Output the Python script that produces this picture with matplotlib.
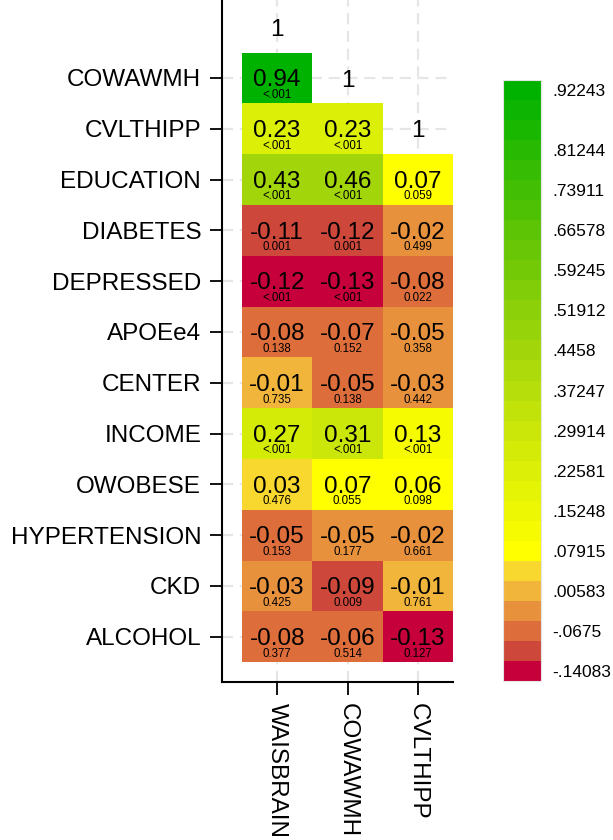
#Importing the necessary Libraries
import numpy as np
import matplotlib
matplotlib.use("Agg")
import matplotlib.pyplot as plt
from matplotlib.colors import ListedColormap, BoundaryNorm, LinearSegmentedColormap
from matplotlib.cm import ScalarMappable

plt.rcParams['font.family'] = ['Liberation Sans', 'DejaVu Sans']

#Defining the data
col_labels = ['WAISBRAIN', 'COWAWMH', 'CVLTHIPP']
row_labels = ['COWAWMH', 'CVLTHIPP', 'EDUCATION', 'DIABETES', 'DEPRESSED', 'APOEe4',
              'CENTER', 'INCOME', 'OWOBESE', 'HYPERTENSION', 'CKD', 'ALCOHOL']

# correlations (None = not drawn / diagonal)
r_wais = [0.938, 0.23, 0.43, -0.11, -0.124, -0.08, -0.01, 0.27, 0.03, -0.052, -0.03, -0.08]
r_cowa = [None, 0.23, 0.46, -0.12, -0.13, -0.07, -0.052, 0.31, 0.07, -0.048, -0.09, -0.06]
r_cvlt = [None, None, 0.07, -0.02, -0.08, -0.048, -0.03, 0.13, 0.063, -0.02, -0.01, -0.13]

# p-values shown under each correlation
p_wais = ['<.001', '<.001', '<.001', '0.001', '<.001', '0.138', '0.735', '<.001', '0.476', '0.153', '0.425', '0.377']
p_cowa = [None, '<.001', '<.001', '0.001', '<.001', '0.152', '0.138', '<.001', '0.055', '0.177', '0.009', '0.514']
p_cvlt = [None, None, '0.059', '0.499', '0.022', '0.358', '0.442', '<.001', '0.098', '0.661', '0.761', '0.127']

# diagonal cells: (column, row) where the "1" sits, row 0 is above COWAWMH
diag_cols = [1, 2, 3]
diag_rows = [0, 1, 2]

# legend labels (bin centres of the colour scale)
legend_labels = ['.92243', '.81244', '.73911', '.66578', '.59245', '.51912', '.4458',
                 '.37247', '.29914', '.22581', '.15248', '.07915', '.00583', '-.0675', '-.14083']

#Building the colour scale
warm = ['#C6003A', '#CD483A', '#DD6D3B', '#E8913D', '#F0B53A', '#F8D82E']
green = LinearSegmentedColormap.from_list(
    'yg', [(0.0, '#FFFF00'), (0.26, '#CBE70A'), (0.43, '#A3D60A'),
           (0.70, '#5CC305'), (1.0, '#00B200')])
n_green = 24
colors = warm + [green(i / (n_green - 1)) for i in range(n_green)]

centres = sorted(float(s) for s in legend_labels)
step = (centres[-1] - centres[0]) / (len(colors) - 1)
bounds = [centres[0] - step / 2 + k * step for k in range(len(colors) + 1)]
cmap = ListedColormap(colors)
norm = BoundaryNorm(bounds, cmap.N)

#Plotting
fig = plt.figure(figsize=(6.13, 8.40), dpi=100)
ax = fig.add_axes([222 / 613, 158 / 840, 231 / 613, 682 / 840])

cols = [r_wais, r_cowa, r_cvlt]
pvals = [p_wais, p_cowa, p_cvlt]
grid = np.full((len(row_labels) + 1, len(col_labels)), np.nan)
for c, series in enumerate(cols):
    for r, v in enumerate(series):
        if v is not None:
            grid[r + 1, c] = v
masked = np.ma.masked_invalid(grid)

x_edges = np.arange(len(col_labels) + 1) + 0.5
y_edges = np.arange(len(row_labels) + 2) - 0.5
ax.pcolormesh(x_edges, y_edges, masked, cmap=cmap, norm=norm, zorder=2)

for c, series in enumerate(cols):
    for r, v in enumerate(series):
        if v is None:
            continue
        ax.text(c + 1, r + 1 + 0.16, f"{v:.2f}", ha='center', va='baseline',
                fontsize=17.5, zorder=3)
        ax.text(c + 1, r + 1 + 0.39, pvals[c][r], ha='center', va='baseline',
                fontsize=8.3, zorder=3)

for c, r in zip(diag_cols, diag_rows):
    ax.text(c, r + 0.17, "1", ha='center', va='baseline', fontsize=17.5, zorder=3)

ax.set_xlim(0.5 - 20 / 70.33, 3.5)
ax.set_ylim(1 + (682 - 78) / 50.8, 1 - 78 / 50.8)

ax.set_xticks(range(1, len(col_labels) + 1))
ax.set_xticklabels(col_labels, rotation=-90, fontsize=17.5)
ax.set_yticks(range(1, len(row_labels) + 1))
ax.set_yticklabels(row_labels, fontsize=17.5)
ax.tick_params(axis='both', length=9, width=1.3, pad=6)

for s in ['top', 'right']:
    ax.spines[s].set_visible(False)
for s in ['left', 'bottom']:
    ax.spines[s].set_linewidth(1.5)

ax.grid(True, color='#E6E6E6', linestyle=(0, (5, 3)), linewidth=1.6, zorder=0)
ax.set_axisbelow(True)

#Colour legend
cax = fig.add_axes([503 / 613, 159 / 840, 38 / 613, 601 / 840])
sm = ScalarMappable(norm=norm, cmap=cmap)
cb = fig.colorbar(sm, cax=cax, boundaries=bounds, ticks=[float(s) for s in legend_labels])
cb.ax.minorticks_off()
cb.ax.set_yticklabels(legend_labels)
cb.ax.tick_params(which='both', length=0, labelsize=12.5, pad=8)
cb.outline.set_edgecolor('#E4E4E4')
cb.outline.set_linewidth(0.8)

fig.savefig('out.png', dpi=100)
